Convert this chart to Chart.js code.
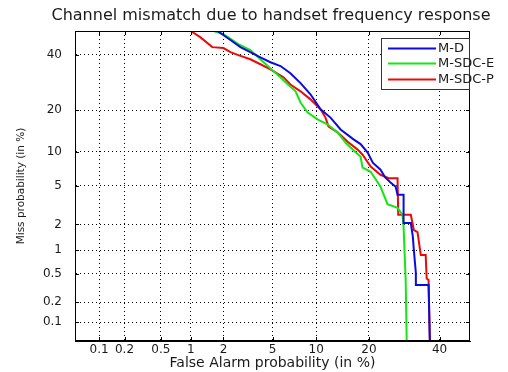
<!DOCTYPE html>
<html>
<head>
<meta charset="utf-8">
<title>DET - handset frequency response</title>
<script src="https://cdn.jsdelivr.net/npm/chart.js@4.4.0/dist/chart.umd.min.js"></script>
<style>
  html, body { margin: 0; padding: 0; background: #fff; }
  #wrap { width: 508px; height: 372px; }
</style>
</head>
<body>
<div id="wrap"><canvas id="detCanvas"></canvas></div>
<script>
// axis ticks (in %), both axes use the same normal-deviate scale
var tickValues = [0.1, 0.2, 0.5, 1, 2, 5, 10, 20, 40];
var tickLabels = ['0.1', '0.2', '0.5', '1', '2', '5', '10', '20', '40'];
var axisMin = 0.05;
var axisMax = 50;

var seriesNames = ['M-D', 'M-SDC-E', 'M-SDC-P'];
var seriesColors = ['rgb(10,10,225)', 'rgb(20,230,20)', 'rgb(235,10,10)'];

// M-D
var mdFalseAlarm = [1.77, 2.3, 2.79, 3.36, 4.04, 4.82, 5.72, 6.73, 7.9, 9.19, 10.66, 12.26, 14.05, 16.6, 18.1, 19.7, 20.9, 22.8, 24.0, 25.4, 26.8, 27.3, 29.0, 29.0, 31.1, 31.7, 32.0, 32.6, 32.6, 36.5, 36.9];
var mdMiss       = [50, 46.2, 43.2, 41.1, 39.0, 37.0, 35.5, 32.7, 29.0, 25.1, 20.3, 17.9, 14.8, 12.5, 11.5, 9.84, 8.1, 7.05, 6.0, 5.4, 4.91, 4.1, 4.1, 2.08, 2.08, 1.44, 1.0, 0.51, 0.35, 0.35, 0.05];

// M-SDC-E
var sdceFalseAlarm = [1.63, 2.0, 2.68, 3.36, 4.04, 4.82, 5.72, 6.3, 7.31, 7.9, 8.78, 10.2, 11.76, 13.5, 15.0, 16.0, 18.1, 18.54, 20.4, 22.8, 24.6, 27.3, 28.7, 29.0, 29.6, 29.9];
var sdceMiss       = [50, 48.7, 44.5, 42.0, 38.2, 34.5, 31.2, 29.0, 26.1, 22.4, 19.4, 17.4, 16.1, 14.1, 11.8, 10.8, 9.1, 7.34, 6.76, 4.91, 3.3, 3.02, 2.55, 1.88, 0.41, 0.05];

// M-SDC-P
var sdcpFalseAlarm = [1.0, 1.23, 1.59, 2.0, 2.3, 2.68, 3.36, 4.04, 4.82, 6.01, 6.73, 7.9, 9.19, 10.66, 11.43, 11.94, 13.5, 15.4, 17.46, 18.5, 20.4, 22.8, 24.9, 27.3, 27.5, 31.1, 32.0, 33.1, 34.1, 35.6, 35.9, 36.5, 36.9];
var sdcpMiss       = [50, 47.4, 43.2, 42.8, 41.1, 39.9, 38.2, 36.2, 34.2, 31.2, 28.5, 26.1, 23.4, 20.3, 17.9, 15.5, 14.1, 12.0, 10.4, 9.5, 7.5, 6.35, 5.9, 5.9, 2.55, 2.55, 1.73, 1.64, 0.87, 0.87, 0.43, 0.41, 0.05];

// inverse normal CDF (Acklam), used to map % onto the DET scale
function probit(p) {
    var a = [-3.969683028665376e+01, 2.209460984245205e+02, -2.759285104469687e+02, 1.383577518672690e+02, -3.066479806614716e+01, 2.506628277459239e+00];
    var b = [-5.447609879822406e+01, 1.615858368580409e+02, -1.556989798598866e+02, 6.680131188771972e+01, -1.328068155288572e+01];
    var c = [-7.784894002430293e-03, -3.223964580411365e-01, -2.400758277161838e+00, -2.549732539343734e+00, 4.374664141464968e+00, 2.938163982698783e+00];
    var d = [7.784695709041462e-03, 3.224671290700398e-01, 2.445134137142996e+00, 3.754408661907416e+00];
    var plow = 0.02425, q, r;
    if (p < plow) {
        q = Math.sqrt(-2 * Math.log(p));
        return (((((c[0]*q+c[1])*q+c[2])*q+c[3])*q+c[4])*q+c[5]) / ((((d[0]*q+d[1])*q+d[2])*q+d[3])*q+1);
    }
    if (p > 1 - plow) {
        q = Math.sqrt(-2 * Math.log(1 - p));
        return -(((((c[0]*q+c[1])*q+c[2])*q+c[3])*q+c[4])*q+c[5]) / ((((d[0]*q+d[1])*q+d[2])*q+d[3])*q+1);
    }
    q = p - 0.5;
    r = q * q;
    return (((((a[0]*r+a[1])*r+a[2])*r+a[3])*r+a[4])*r+a[5])*q / (((((b[0]*r+b[1])*r+b[2])*r+b[3])*r+b[4])*r+1);
}

function toPoints(fa, miss) {
    var pts = [];
    for (var i = 0; i < fa.length; i++) {
        pts.push({ x: probit(fa[i] / 100), y: probit(miss[i] / 100) });
    }
    return pts;
}

var seriesFA = [mdFalseAlarm, sdceFalseAlarm, sdcpFalseAlarm];
var seriesMiss = [mdMiss, sdceMiss, sdcpMiss];

var datasets = [];
for (var s = 0; s < seriesNames.length; s++) {
    datasets.push({
        label: seriesNames[s],
        data: toPoints(seriesFA[s], seriesMiss[s]),
        borderColor: seriesColors[s],
        backgroundColor: seriesColors[s],
        borderWidth: 2,
        pointRadius: 0,
        tension: 0,
        fill: false
    });
}

function setTicks(scale) {
    scale.ticks = tickValues.map(function(v) { return { value: probit(v / 100) }; });
}

var textColor = '#1a1a1a';
var fontFamily = "'DejaVu Sans', sans-serif";

// box round the axes plus small inward tick marks
var frame = {
    id: 'frame',
    afterDatasetsDraw: function(chart) {
        var ctx = chart.ctx, a = chart.chartArea;
        var xs = chart.scales.x, ys = chart.scales.y;
        ctx.save();
        ctx.strokeStyle = '#000';
        ctx.lineWidth = 1;
        ctx.strokeRect(Math.round(a.left) + 0.5, Math.round(a.top) + 0.5,
            Math.round(a.right - a.left) - 1, Math.round(a.bottom - a.top) - 1);
        ctx.beginPath();
        tickValues.forEach(function(v) {
            var px = Math.round(xs.getPixelForValue(probit(v / 100))) + 0.5;
            ctx.moveTo(px, a.bottom); ctx.lineTo(px, a.bottom - 4);
            ctx.moveTo(px, a.top); ctx.lineTo(px, a.top + 4);
            var py = Math.round(ys.getPixelForValue(probit(v / 100))) + 0.5;
            ctx.moveTo(a.left, py); ctx.lineTo(a.left + 4, py);
            ctx.moveTo(a.right, py); ctx.lineTo(a.right - 4, py);
        });
        ctx.stroke();
        ctx.restore();
    }
};

// legend drawn inside the top right corner of the axes
var insideLegend = {
    id: 'insideLegend',
    afterDraw: function(chart) {
        var ctx = chart.ctx, a = chart.chartArea;
        var w = 89, h = 52;
        var left = Math.round(a.right) - w, top = Math.round(a.top) + 7;
        ctx.save();
        ctx.fillStyle = '#fff';
        ctx.fillRect(left, top, w, h);
        ctx.strokeStyle = '#333';
        ctx.lineWidth = 1;
        ctx.strokeRect(left + 0.5, top + 0.5, w - 1, h - 1);
        ctx.font = '13px ' + fontFamily;
        ctx.textBaseline = 'middle';
        ctx.textAlign = 'left';
        chart.data.datasets.forEach(function(ds, i) {
            var y = Math.round(top + 9.5 + i * 15.75) + 0.5;
            ctx.strokeStyle = ds.borderColor;
            ctx.lineWidth = 2;
            ctx.beginPath();
            ctx.moveTo(left + 7, y);
            ctx.lineTo(left + 55, y);
            ctx.stroke();
            ctx.fillStyle = textColor;
            ctx.fillText(ds.label, left + 57, y);
        });
        ctx.restore();
    }
};

var ctx = document.getElementById('detCanvas');

var detChart = new Chart(ctx, {
    type: 'line',
    data: { datasets: datasets },
    plugins: [frame, insideLegend],
    options: {
        responsive: true,
        maintainAspectRatio: false,
        animation: false,
        // left padding shifts the centred title over the axes
        layout: { padding: { left: 34, right: 0, top: 0, bottom: 0 } },
        plugins: {
            legend: { display: false },
            tooltip: { enabled: false },
            title: {
                display: true,
                text: 'Channel mismatch due to handset frequency response',
                color: textColor,
                font: { family: fontFamily, size: 16, weight: 'normal', lineHeight: 1 },
                padding: { top: 8, bottom: 7 }
            }
        },
        scales: {
            x: {
                type: 'linear',
                min: probit(axisMin / 100),
                max: probit(axisMax / 100),
                afterBuildTicks: setTicks,
                afterFit: function(scale) { scale.height = 31; },
                grid: { color: '#000', lineWidth: 1, drawTicks: false },
                border: { display: true, color: '#000', dash: [1, 3] },
                ticks: {
                    autoSkip: false,
                    maxRotation: 0,
                    padding: 2,
                    color: textColor,
                    font: { family: fontFamily, size: 12 },
                    callback: function(value, index) { return tickLabels[index]; }
                },
                title: {
                    display: true,
                    text: 'False Alarm probability (in %)',
                    color: textColor,
                    font: { family: fontFamily, size: 14 },
                    padding: { top: 0, bottom: 0 }
                }
            },
            y: {
                type: 'linear',
                min: probit(axisMin / 100),
                max: probit(axisMax / 100),
                afterBuildTicks: setTicks,
                afterFit: function(scale) { scale.width = 41; },
                grid: { color: '#000', lineWidth: 1, drawTicks: false },
                border: { display: true, color: '#000', dash: [1, 3] },
                ticks: {
                    autoSkip: false,
                    padding: 13,
                    color: textColor,
                    font: { family: fontFamily, size: 12 },
                    callback: function(value, index) { return tickLabels[index]; }
                },
                title: {
                    display: true,
                    text: 'Miss probability (in %)',
                    color: textColor,
                    font: { family: fontFamily, size: 10.5 },
                    padding: { top: -19, bottom: 0 }
                }
            },
            // empty right-hand axis that only reserves the margin
            yRight: {
                type: 'linear',
                position: 'right',
                display: true,
                afterFit: function(scale) { scale.width = 38; },
                grid: { display: false },
                border: { display: false },
                ticks: { display: false }
            }
        }
    }
});
</script>
</body>
</html>
